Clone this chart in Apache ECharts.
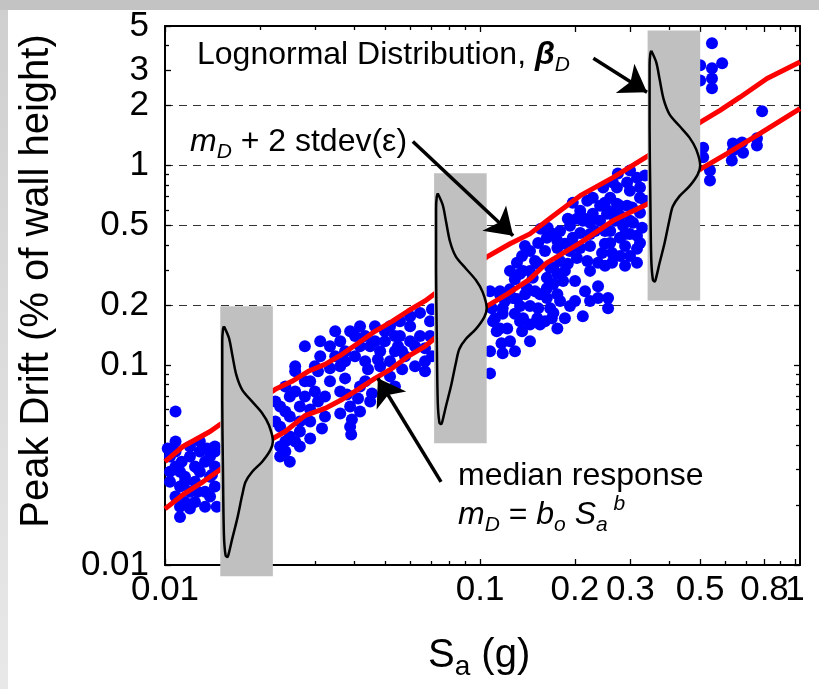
<!DOCTYPE html>
<html>
<head>
<meta charset="utf-8">
<script src="https://cdn.jsdelivr.net/npm/echarts@6/dist/echarts.min.js"></script>
<style>
  html, body { margin: 0; padding: 0; background: #fff; }
  #chart { width: 819px; height: 689px; }
</style>
</head>
<body>
<div id="chart"></div>
<script>
// Nonlinear analyses: spectral acceleration Sa (g) vs. peak drift (% of wall height)
const responses = [
  [0.0108,0.0587],[0.0108,0.0415],[0.0102,0.0383],[0.0129,0.0415],[0.0144,0.0392],[0.0120,0.0349],
  [0.0113,0.0329],[0.0134,0.0329],[0.0108,0.0311],[0.01245,0.0311],[0.0144,0.0311],[0.01116,0.0293],
  [0.0129,0.0293],[0.01157,0.0277],[0.0139,0.0277],[0.01245,0.0261],[0.01116,0.0247],[0.0144,0.0247],
  [0.0120,0.0233],[0.0134,0.0233],[0.0139,0.0220],[0.01157,0.0207],[0.01245,0.0207],[0.01116,0.0196],
  [0.0134,0.0196],[0.01116,0.0174],[0.01037,0.0349],[0.0108,0.0370],[0.0129,0.0370],[0.0120,0.0392],
  [0.0139,0.0349],[0.01037,0.0261],[0.0144,0.0370],[0.0127,0.0304],[0.0141,0.0283],[0.01157,0.0261],
  [0.0108,0.0220],[0.0120,0.0192],[0.0127,0.0233],[0.0146,0.0196],[0.01037,0.0293],[0.0136,0.0383],
  [0.0224,0.0659],[0.0249,0.0698],[0.0259,0.0740],[0.0259,0.0933],[0.0241,0.0587],[0.0249,0.0554],
  [0.0224,0.0523],[0.0232,0.0493],[0.0249,0.0440],[0.0232,0.0392],[0.0259,0.0415],[0.0241,0.0370],
  [0.0249,0.0329],[0.0278,0.0831],[0.0278,0.0698],[0.0299,0.0740],[0.0268,0.0523],[0.0268,0.0466],
  [0.0232,0.0622],[0.0268,0.0622],[0.0241,0.0415],[0.0268,0.0392],[0.0232,0.0349],
  [0.0278,0.1245],[0.0311,0.1109],[0.0334,0.1245],[0.0347,0.1109],[0.0360,0.132],[0.0373,0.1175],
  [0.0401,0.140],[0.0416,0.157],[0.0416,0.1245],[0.0401,0.1109],[0.0373,0.1047],[0.0360,0.0988],
  [0.0432,0.1047],[0.0441,0.0955],[0.0448,0.1245],[0.0464,0.132],[0.0464,0.157],[0.0482,0.1175],
  [0.0474,0.107],[0.0499,0.148],[0.0518,0.157],[0.0537,0.140],[0.0557,0.166],[0.0549,0.1245],
  [0.0518,0.1047],[0.0600,0.176],[0.0645,0.183],[0.0645,0.140],[0.0694,0.166],[0.0704,0.191],
  [0.0600,0.132],[0.0566,0.1175],[0.0669,0.1047],[0.0669,0.0933],[0.0518,0.0880],[0.0259,0.0988],
  [0.0241,0.0784],[0.0289,0.0831],[0.0306,0.0659],[0.0322,0.0554],[0.0289,0.0601],[0.0289,0.0523],
  [0.0315,0.0482],[0.0373,0.0860],[0.0378,0.0715],[0.0410,0.0682],[0.0416,0.0784],[0.0432,0.0831],
  [0.0387,0.0622],[0.0360,0.0573],[0.0392,0.0535],[0.0387,0.0493],[0.0454,0.0723],[0.0448,0.0659],
  [0.0334,0.0966],[0.0306,0.0933],[0.0390,0.0450],[0.0289,0.0430],[0.0566,0.0955],[0.0537,0.0784],
  [0.0669,0.1217],[0.0704,0.1109],[0.0347,0.148],[0.0387,0.148],[0.0432,0.140],[0.0499,0.132],
  [0.0537,0.1175],[0.0482,0.0988],[0.0600,0.157],[0.0622,0.1245],[0.0557,0.140],[0.0311,0.132],
  [0.0299,0.0988],[0.0334,0.0831],[0.0360,0.0740],[0.0322,0.0698],[0.0416,0.0587],[0.0578,0.1109],
  [0.0622,0.0988],[0.0694,0.140],
  [0.1076,0.235],[0.1157,0.235],[0.1245,0.240],[0.131,0.326],[0.136,0.353],[0.1441,0.374],
  [0.153,0.410],[0.164,0.488],[0.171,0.455],[0.134,0.287],[0.144,0.297],[0.153,0.322],
  [0.171,0.308],[0.139,0.227],[0.131,0.215],[0.155,0.227],[0.163,0.243],[0.153,0.193],
  [0.167,0.193],[0.155,0.160],[0.169,0.172],[0.118,0.181],[0.110,0.166],[0.113,0.148],
  [0.122,0.153],[0.117,0.129],[0.1245,0.132],[0.1076,0.1175],[0.118,0.115],[0.1076,0.0911],
  [0.129,0.181],[0.134,0.166],[0.152,0.172],[0.163,0.435],[0.156,0.483],[0.193,0.500],
  [0.190,0.542],[0.197,0.652],[0.208,0.594],[0.219,0.667],[0.228,0.691],[0.203,0.542],
  [0.212,0.548],[0.2235,0.517],[0.2405,0.630],[0.249,0.652],[0.255,0.594],[0.264,0.574],
  [0.278,0.630],[0.272,0.776],[0.264,0.822],[0.274,0.912],[0.293,0.822],[0.299,0.749],
  [0.315,0.870],[0.322,0.691],[0.293,0.630],[0.322,0.580],[0.306,0.517],[0.2845,0.500],
  [0.289,0.455],[0.315,0.445],[0.327,0.488],[0.322,0.410],[0.315,0.383],[0.315,0.326],
  [0.259,0.410],[0.2235,0.455],[0.208,0.460],[0.197,0.435],[0.186,0.406],[0.176,0.387],
  [0.193,0.374],[0.208,0.387],[0.244,0.365],[0.2625,0.365],[0.237,0.326],[0.2625,0.326],
  [0.219,0.333],[0.203,0.345],[0.190,0.322],[0.1795,0.333],[0.167,0.308],[0.176,0.287],
  [0.186,0.297],[0.163,0.274],[0.147,0.274],[0.137,0.297],[0.129,0.270],[0.141,0.243],
  [0.1495,0.235],[0.171,0.255],[0.1835,0.264],[0.176,0.227],[0.237,0.249],[0.237,0.217],
  [0.255,0.217],[0.255,0.193],[0.212,0.176],[0.193,0.198],[0.1795,0.210],[0.163,0.217],
  [0.171,0.183],[0.186,0.172],[0.176,0.153],[0.1157,0.227],[0.109,0.193],[0.118,0.193],
  [0.127,0.217],[0.134,0.198],[0.1116,0.172],[0.137,0.172],[0.1157,0.153],[0.136,0.148],
  [0.144,0.160],[0.246,0.776],[0.259,0.691],[0.322,0.776],[0.176,0.420],[0.212,0.529],
  [0.228,0.574],[0.253,0.574],[0.272,0.644],[0.304,0.616],[0.259,0.471],[0.278,0.435],
  [0.299,0.455],[0.249,0.406],[0.1795,0.471],[0.2003,0.396],[0.2235,0.396],[0.2318,0.471],
  [0.2405,0.529],[0.2683,0.529],[0.2494,0.471],[0.2783,0.561],[0.2994,0.529],[0.2887,0.396],
  [0.2783,0.353],[0.2994,0.353],[0.2235,0.297],[0.2494,0.315],[0.2003,0.264],[0.2155,0.235],
  [0.1608,0.374],[0.1495,0.333],[0.1389,0.396],[0.1245,0.297],[0.1200,0.210],[0.1441,0.198],
  [0.1608,0.166],[0.1441,0.132],[0.1291,0.1175],[0.2003,0.210],[0.2235,0.210],[0.2887,0.315],
  [0.3341,0.667],[0.3341,0.891],[0.2994,0.944],
  [0.545,4.10],[0.587,3.25],[0.545,3.07],[0.500,3.18],[0.545,2.73],[0.500,2.67],
  [0.545,2.44],[0.786,1.87],[0.635,1.29],[0.679,1.305],[0.757,1.37],[0.757,1.26],
  [0.635,1.19],[0.684,1.16],[0.630,1.06],[0.511,1.23],[0.511,1.10],[0.537,0.944],[0.537,0.841]
];

// Median response m_D = b_o Sa^b (running estimate)
const medianCurve = [
  [0.01,0.0191],[0.0114,0.0225],[0.0132,0.0261],[0.01495,0.0300],[0.0220,0.0430],[0.0241,0.0466],
  [0.0278,0.0560],[0.0322,0.0608],[0.0365,0.0674],[0.0410,0.0757],[0.0464,0.0860],[0.0526,0.0966],
  [0.0591,0.1109],[0.0669,0.1245],[0.0720,0.137],[0.1052,0.198],[0.122,0.227],[0.144,0.270],
  [0.163,0.326],[0.208,0.410],[0.264,0.529],[0.3415,0.644],[0.504,0.966],[0.608,1.148],
  [0.757,1.415],[1.037,1.93]
];

// Median + 2 standard deviations of the log residual
const upperCurve = [
  [0.01,0.0329],[0.0114,0.0392],[0.0139,0.0466],[0.01495,0.0505],[0.0224,0.0758],[0.0253,0.0831],
  [0.0285,0.0933],[0.0322,0.101],[0.0365,0.1135],[0.0410,0.129],[0.0464,0.148],[0.0526,0.166],
  [0.0591,0.187],[0.0669,0.210],[0.0720,0.229],[0.1052,0.349],[0.1245,0.406],[0.144,0.455],
  [0.163,0.529],[0.1795,0.594],[0.208,0.707],[0.264,0.870],[0.3415,1.12],[0.504,1.66],
  [0.578,1.89],[0.669,2.20],[0.815,2.73],[1.037,3.30]
];

// Lognormal distribution panels: Sa at the panel's right edge, median drift at its centre
const pdfSa = [0.022, 0.105, 0.5];
const pdfCenterDrift = [0.0417, 0.193, 1.0];
// Density profile: [fraction of panel width, offset in log10(drift) from the median]
const pdfProfile = [
  [0.070,0.575],[0.165,0.517],[0.228,0.433],[0.304,0.333],[0.417,0.257],[0.607,0.198],
  [0.797,0.140],[0.924,0.081],[1.000,0.000],[0.954,-0.044],[0.797,-0.103],[0.607,-0.153],
  [0.480,-0.204],[0.417,-0.270],[0.323,-0.388],[0.228,-0.488],[0.152,-0.572],[0.133,-0.580],
  [0.101,-0.572],[0.070,-0.471],[0.051,-0.137],[0.038,0.198],[0.038,0.500],[0.051,0.559],
  [0.070,0.575]
];

// Annotation arrows: [start, tip] as [Sa, drift]
const arrowLines = [
  [[0.229, 3.45], [0.339, 2.33]],
  [[0.0612, 1.32], [0.1274, 0.445]],
  [[0.0752, 0.0261], [0.0474, 0.0861]]
];

// Axis ticks
const xMajorTicks = [0.01, 0.1, 0.2, 0.3, 0.5, 0.8, 1];
const xMinorTicks = [0.02, 0.03, 0.04, 0.05, 0.06, 0.07, 0.08, 0.09, 0.4, 0.6, 0.7, 0.9];
const yMajorTicks = [0.01, 0.1, 0.2, 0.5, 1, 2, 3, 5];
const yMinorTicks = [0.02, 0.03, 0.04, 0.05, 0.06, 0.07, 0.08, 0.09, 0.3, 0.4, 0.6, 0.7, 0.8, 0.9, 4];
const yGridValues = [0.1, 0.2, 0.5, 1, 2, 3];

const L = Math.log10;
const FONT = '"Liberation Sans", Arial, Helvetica, sans-serif';
const X_RANGE = [L(0.01), L(1.037)];
const Y_RANGE = [L(0.01), L(5)];
const PANEL_W = 0.167;   // panel width, decades of Sa
const PANEL_H = 0.676;   // panel half height, decades of drift

const fmt = v => String(Number(Math.pow(10, v).toPrecision(2)));
const ll = p => [L(p[0]), L(p[1])];

// Neighbouring x labels sit very close together, so they are split over two
// coincident bottom axes (even / odd positions) to keep all of them visible.
const xLabelsEven = xMajorTicks.filter((v, i) => i % 2 === 0);
const xLabelsOdd = xMajorTicks.filter((v, i) => i % 2 === 1);

function axisDef(kind, position, ticks, len, showLine, labels) {
  const range = kind === 'x' ? X_RANGE : Y_RANGE;
  return {
    type: 'value', position, min: range[0], max: range[1],
    axisLine: { show: showLine, onZero: false, lineStyle: { color: '#000', width: 2 } },
    axisTick: { show: true, inside: true, length: len, customValues: ticks.map(L),
                lineStyle: { color: '#000', width: 1.3 } },
    axisLabel: { show: !!labels, customValues: (labels || []).map(L), formatter: fmt,
                 hideOverlap: false, showMinLabel: true, showMaxLabel: true,
                 fontSize: 35, fontFamily: FONT, color: '#000', margin: kind === 'x' ? 8 : 16 },
    splitLine: { show: false }
  };
}

const gridAxis = {
  type: 'value', position: 'left', min: Y_RANGE[0], max: Y_RANGE[1],
  axisLine: { show: false, onZero: false },
  axisTick: { show: false, customValues: yGridValues.map(L) },
  axisLabel: { show: false },
  splitLine: { show: true, showMinLine: false, showMaxLine: false,
               lineStyle: { color: '#333', width: 1, type: [8, 6] } }
};

const panels = pdfSa.map((s, i) => [L(s) - PANEL_W, L(s), L(pdfCenterDrift[i]) - PANEL_H, L(pdfCenterDrift[i]) + PANEL_H]);

const series = [
  {
    type: 'scatter', xAxisIndex: 0, yAxisIndex: 0, z: 2,
    data: responses.map(ll), symbol: 'circle', symbolSize: 12,
    itemStyle: { color: '#0000ff', opacity: 1 }
  },
  {
    type: 'line', xAxisIndex: 0, yAxisIndex: 0, z: 3, data: upperCurve.map(ll),
    symbol: 'none', lineStyle: { color: '#ff0000', width: 5 }
  },
  {
    type: 'line', xAxisIndex: 0, yAxisIndex: 0, z: 3, data: medianCurve.map(ll),
    symbol: 'none', lineStyle: { color: '#ff0000', width: 5 }
  },
  {
    type: 'custom', xAxisIndex: 0, yAxisIndex: 0, z: 4, clip: false,
    data: panels,
    encode: { x: [0, 1], y: [2, 3] },
    renderItem: (params, api) => {
      const a = api.coord([api.value(0), api.value(3)]);
      const b = api.coord([api.value(1), api.value(2)]);
      return { type: 'rect', shape: { x: a[0], y: a[1], width: b[0] - a[0], height: b[1] - a[1] },
               style: { fill: '#c0c0c0' } };
    }
  }
];

pdfSa.forEach((s, i) => {
  const left = L(s) - PANEL_W, mid = L(pdfCenterDrift[i]);
  series.push({
    type: 'line', xAxisIndex: 0, yAxisIndex: 0, z: 5, clip: false,
    data: pdfProfile.map(([f, d]) => [left + f * PANEL_W, mid + d]),
    symbol: 'none', smooth: 0.3,
    lineStyle: { color: '#000', width: 2.5 }
  });
});

series.push({
  type: 'lines', coordinateSystem: 'cartesian2d', xAxisIndex: 0, yAxisIndex: 0, z: 6,
  data: arrowLines.map(a => ({ coords: a.map(ll) })),
  symbol: ['none', 'arrow'], symbolSize: [18, 26],
  lineStyle: { color: '#000', width: 3.5, opacity: 1 }
});

const AF = 32; // annotation font size
const t = (fs, extra) => Object.assign({ fontSize: fs, fontFamily: FONT, color: '#000', lineHeight: 42, verticalAlign: 'middle' }, extra || {});
const subStyle = { fontSize: 21, fontFamily: FONT, fontStyle: 'italic', lineHeight: 20, verticalAlign: 'bottom' };
const supStyle = { fontSize: 21, fontFamily: FONT, fontStyle: 'italic', lineHeight: 20, verticalAlign: 'top' };

const graphic = [
  { type: 'rect', x: 0, y: 0, shape: { width: 819, height: 10 }, style: { fill: '#c3c3c3' }, silent: true },
  { type: 'rect', x: 0, y: 10, shape: { width: 8, height: 679 },
    style: { fill: new echarts.graphic.LinearGradient(0, 0, 0, 1, [{ offset: 0, color: '#cfcfcf' }, { offset: 1, color: '#e8e8e8' }]) }, silent: true },
  { type: 'text', x: 37, y: 281, rotation: Math.PI / 2, z: 10,
    style: { text: 'Peak Drift (% of wall height)', font: '40px ' + FONT, fill: '#000',
             align: 'center', verticalAlign: 'middle', textAlign: 'center', textVerticalAlign: 'middle' } },
  { type: 'text', x: 428, y: 656, z: 10,
    style: { text: '{s|S}{a|a}{n| (g)}', fill: '#000', align: 'left', verticalAlign: 'middle',
             rich: { s: t(40, { lineHeight: 50 }), a: { fontSize: 28, fontFamily: FONT, lineHeight: 24, verticalAlign: 'bottom' }, n: t(40, { lineHeight: 50 }) } } },
  { type: 'text', x: 197, y: 55, z: 10,
    style: { text: '{n|Lognormal Distribution, }{b|β}{s|D}', fill: '#000', align: 'left', verticalAlign: 'middle',
             rich: { n: t(AF, { backgroundColor: '#fff' }), b: t(AF, { fontStyle: 'italic', fontWeight: 'bold' }), s: subStyle } } },
  { type: 'text', x: 190, y: 142, z: 10,
    style: { text: '{i|m}{s|D}{n| + 2 stdev(ε)}', fill: '#000', align: 'left', verticalAlign: 'middle',
             rich: { i: t(AF, { fontStyle: 'italic' }), s: subStyle, n: t(AF) } } },
  { type: 'text', x: 458, y: 476, z: 10,
    style: { text: 'median response', font: AF + 'px ' + FONT, fill: '#000', align: 'left', verticalAlign: 'middle' } },
  { type: 'text', x: 458, y: 515, z: 10,
    style: { text: '{i|m}{s|D}{n| = }{i|b}{s|o}{n| }{i|S}{s|a}{p| b}', fill: '#000', align: 'left', verticalAlign: 'middle',
             rich: { i: t(AF, { fontStyle: 'italic' }), s: subStyle, p: supStyle, n: t(AF) } } }
];

const chart = echarts.init(document.getElementById('chart'), null, { renderer: 'canvas' });
chart.setOption({
  animation: false,
  backgroundColor: '#fff',
  grid: { left: 165, right: 19, top: 26, bottom: 124, containLabel: false, outerBoundsMode: 'none' },
  xAxis: [
    axisDef('x', 'bottom', xMajorTicks, 6, true, xLabelsEven),
    axisDef('x', 'bottom', xMinorTicks, 4, false, xLabelsOdd),
    axisDef('x', 'top', xMajorTicks, 6, true, null),
    axisDef('x', 'top', xMinorTicks, 4, false, null)
  ],
  yAxis: [
    axisDef('y', 'left', yMajorTicks, 6, true, yMajorTicks),
    axisDef('y', 'left', yMinorTicks, 4, false, null),
    axisDef('y', 'right', yMajorTicks, 6, true, null),
    axisDef('y', 'right', yMinorTicks, 4, false, null),
    gridAxis
  ],
  series,
  graphic
});
</script>
</body>
</html>
